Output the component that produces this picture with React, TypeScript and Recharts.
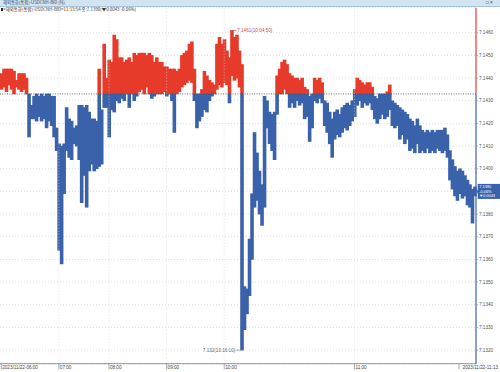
import React from 'react';
import { BarChart, Bar, XAxis, YAxis, CartesianGrid, ReferenceLine, ReferenceDot } from 'recharts';

// per-bucket tick highs / lows (USDCNH bid, tick chart)
const hiValues = [
  7.1442, 7.1444, 7.1444, 7.1444, 7.1444, 7.1443, 7.1439, 7.1442, 7.1442, 7.1442,
  7.1440, 7.1433, 7.1428, 7.1432, 7.1433, 7.1432, 7.1433, 7.1432, 7.1433, 7.1433,
  7.1432, 7.1432, 7.1418, 7.1411, 7.1410, 7.1411, 7.1427, 7.1422, 7.1421, 7.1418,
  7.1419, 7.1428, 7.1428, 7.1427, 7.1428, 7.1425, 7.1422, 7.1422, 7.1421, 7.1444,
  7.1426, 7.1455, 7.1440, 7.1448, 7.1447, 7.1459, 7.1457, 7.1449, 7.1449, 7.1447,
  7.1448, 7.1449, 7.1447, 7.1451, 7.1450, 7.1451, 7.1451, 7.1451, 7.1450, 7.1451,
  7.1450, 7.1447, 7.1449, 7.1447, 7.1447, 7.1445, 7.1445, 7.1444, 7.1444, 7.1444,
  7.1443, 7.1444, 7.1450, 7.1451, 7.1452, 7.1455, 7.1456, 7.1444, 7.1433, 7.1433,
  7.1435, 7.1443, 7.1441, 7.1439, 7.1438, 7.1437, 7.1455, 7.1458, 7.1455, 7.1457,
  7.1452, 7.1449, 7.1461, 7.1458, 7.1459, 7.1452, 7.1446, 7.1348, 7.1347, 7.1369,
  7.1389, 7.1416, 7.1407, 7.1399, 7.1393, 7.1432, 7.1430, 7.1425, 7.1424, 7.1425,
  7.1441, 7.1444, 7.1447, 7.1448, 7.1446, 7.1442, 7.1441, 7.1440, 7.1440, 7.1439,
  7.1440, 7.1436, 7.1435, 7.1432, 7.1433, 7.1440, 7.1439, 7.1440, 7.1438, 7.1430,
  7.1429, 7.1425, 7.1422, 7.1425, 7.1426, 7.1424, 7.1427, 7.1428, 7.1429, 7.1428,
  7.1430, 7.1435, 7.1440, 7.1439, 7.1438, 7.1437, 7.1438, 7.1438, 7.1436, 7.1432,
  7.1431, 7.1433, 7.1433, 7.1433, 7.1434, 7.1437, 7.1430, 7.1429, 7.1428, 7.1427,
  7.1426, 7.1425, 7.1424, 7.1422, 7.1421, 7.1419, 7.1422, 7.1419, 7.1417, 7.1416,
  7.1417, 7.1416, 7.1417, 7.1416, 7.1417, 7.1417, 7.1417, 7.1418, 7.1415, 7.1408,
  7.1404, 7.1401, 7.1399, 7.1400, 7.1399, 7.1397, 7.1395, 7.1393, 7.1391, 7.1392,
];

const loValues = [
  7.1435, 7.1436, 7.1434, 7.1437, 7.1435, 7.1433, 7.1436, 7.1435, 7.1434, 7.1435,
  7.1433, 7.1414, 7.1422, 7.1422, 7.1421, 7.1423, 7.1421, 7.1422, 7.1418, 7.1421,
  7.1419, 7.1414, 7.1408, 7.1364, 7.1358, 7.1389, 7.1408, 7.1405, 7.1404, 7.1411,
  7.1410, 7.1404, 7.1385, 7.1397, 7.1383, 7.1399, 7.1402, 7.1399, 7.1400, 7.1401,
  7.1402, 7.1427, 7.1427, 7.1414, 7.1426, 7.1425, 7.1430, 7.1429, 7.1431, 7.1430,
  7.1433, 7.1427, 7.1433, 7.1430, 7.1432, 7.1434, 7.1435, 7.1433, 7.1436, 7.1433,
  7.1431, 7.1432, 7.1433, 7.1433, 7.1433, 7.1434, 7.1432, 7.1433, 7.1430, 7.1416,
  7.1433, 7.1434, 7.1436, 7.1437, 7.1438, 7.1439, 7.1438, 7.1430, 7.1418, 7.1421,
  7.1423, 7.1426, 7.1425, 7.1430, 7.1432, 7.1433, 7.1435, 7.1437, 7.1436, 7.1438,
  7.1437, 7.1429, 7.1441, 7.1439, 7.1440, 7.1436, 7.1320, 7.1329, 7.1336, 7.1344,
  7.1360, 7.1383, 7.1386, 7.1380, 7.1375, 7.1383, 7.1418, 7.1411, 7.1408, 7.1404,
  7.1424, 7.1433, 7.1433, 7.1435, 7.1433, 7.1427, 7.1429, 7.1427, 7.1430, 7.1428,
  7.1429, 7.1422, 7.1423, 7.1412, 7.1418, 7.1430, 7.1429, 7.1431, 7.1429, 7.1419,
  7.1416, 7.1411, 7.1405, 7.1413, 7.1415, 7.1414, 7.1416, 7.1418, 7.1417, 7.1419,
  7.1421, 7.1423, 7.1428, 7.1430, 7.1427, 7.1429, 7.1428, 7.1429, 7.1426, 7.1422,
  7.1420, 7.1422, 7.1424, 7.1422, 7.1423, 7.1426, 7.1419, 7.1418, 7.1419, 7.1413,
  7.1415, 7.1411, 7.1413, 7.1408, 7.1409, 7.1407, 7.1411, 7.1407, 7.1408, 7.1407,
  7.1409, 7.1407, 7.1408, 7.1407, 7.1409, 7.1408, 7.1407, 7.1408, 7.1405, 7.1395,
  7.1391, 7.1388, 7.1386, 7.1389, 7.1387, 7.1388, 7.1384, 7.1383, 7.1376, 7.1388,
];

const yTickValues = [
  7.132, 7.133, 7.134, 7.135, 7.136, 7.137, 7.138, 7.139,
  7.14, 7.141, 7.142, 7.143, 7.144, 7.145, 7.146,
];

const timeLabels = ['2023/11/22-06:00', '07:00', '08:00', '09:00', '10:00', '11:00'];
const timeIndex = [0, 23, 43, 66, 89, 141];
const endLabel = '2023/11/22-11:13';

const prevClose = 7.1433;
const lastPrice = 7.139;
const lastPriceText = '7.1390';
const lastPctText = '-0.06%';
const lastChangeText = '▼0.0043';
const maxPrice = 7.1461;
const maxIndex = 92;
const maxTime = '10:04:50';
const minPrice = 7.132;
const minIndex = 96;
const minTime = '10:16:10';

const titleText = '해외통화(통합)-USDCNH-BID (틱)';
const infoText = '<해외통화(통합)-USDCNH-BID>11:13:54 종:7.1390(▼0.0043 -0.06%)';

const Y_MIN = 7.1314;
const Y_MAX = 7.1471;

const W = 500;
const H = 372;
const TOP = 7.8;
const X_AXIS_H = 8.3;
const Y_AXIS_W = 24;
const PLOT_BOTTOM = H - X_AXIS_H;
const PLOT_W = W - Y_AXIS_W;

const RED = '#e63b2b';
const BLUE = '#3a62ab';
const FONT = '"Liberation Sans", Arial, sans-serif';
const KFONT = '"Noto Sans CJK KR", "Liberation Sans", sans-serif';

const data = hiValues.map((hi, i) => ({ i, range: [loValues[i], hi] }));
const splitOffset = (Y_MAX - prevClose) / (Y_MAX - Y_MIN);
const bandW = PLOT_W / hiValues.length;

const labelMap: Record<number, string> = {};
timeIndex.forEach((idx, k) => {
  labelMap[idx] = timeLabels[k];
});

// bar shape that fills its whole category band (Recharts floors bar widths)
const TickBar = (props: any) => {
  const { x, y, width, height } = props;
  if (x == null || y == null) return null;
  const cx = x + width / 2;
  const w = bandW + 1.1;
  return <rect x={cx - w / 2} y={y - 0.3} width={w} height={Math.max(height, 0) + 0.6} fill="url(#updown)" />;
};

const XTick = (props: any) => {
  const { x, y, payload } = props;
  const idx = Number(payload.value);
  const label = labelMap[idx];
  if (idx === hiValues.length - 1) {
    return (
      <g>
        <line x1={W - 41} y1={y} x2={W - 41} y2={y + 6} stroke="#777" strokeWidth={0.6} />
        <text x={W - 2} y={y + 5.6} textAnchor="end" fontSize={4.6} fill="#444" fontFamily={FONT}>
          {endLabel}
        </text>
      </g>
    );
  }
  if (!label) return null;
  return (
    <g>
      <line x1={x} y1={y} x2={x} y2={y + 6} stroke="#777" strokeWidth={0.6} />
      <text x={x + 1} y={y + 5.6} textAnchor="start" fontSize={4.6} fill="#444" fontFamily={FONT}>
        {label}
      </text>
    </g>
  );
};

// right-axis price labels; the one under the last-price box is hidden by it
const YTick = (props: any) => {
  const { x, y, payload } = props;
  const v = Number(payload.value);
  if (Math.abs(v - lastPrice) < 1e-7) return null;
  return (
    <text x={x} y={y} dy="0.355em" textAnchor="start" fontSize={4.6} fill="#555" fontFamily={FONT}>
      {v.toFixed(4)}
    </text>
  );
};

const MaxMarker = (props: any) => {
  const { cx, cy } = props;
  return (
    <g>
      <line x1={cx} y1={cy} x2={cx + 5} y2={cy} stroke="#c85a50" strokeWidth={0.6} />
      <text x={cx + 5.5} y={cy + 1.6} fontSize={4.6} fill="#c0504a" fontFamily={FONT}>
        {`${maxPrice}(${maxTime})`}
      </text>
    </g>
  );
};

const MinMarker = (props: any) => {
  const { cx, cy } = props;
  return (
    <g>
      <line x1={cx - 6} y1={cy} x2={cx} y2={cy} stroke="#6a7da0" strokeWidth={0.6} />
      <text x={cx - 6.5} y={cy + 1.6} textAnchor="end" fontSize={4.6} fill="#5a6c90" fontFamily={FONT}>
        {`${minPrice}(${minTime})`}
      </text>
    </g>
  );
};

const LastMarker = (props: any) => {
  const { cx, cy } = props;
  const bx = cx + 3;
  return (
    <g>
      <polygon points={`${bx - 2},${cy} ${bx},${cy - 2} ${bx},${cy + 2}`} fill={BLUE} />
      <rect x={bx} y={cy - 7.5} width={W - bx} height={15} fill={BLUE} />
      <text x={bx + 1.5} y={cy - 3.2} fontSize={3.9} fill="#fff" fontFamily={FONT}>{lastPriceText}</text>
      <text x={bx + 1.5} y={cy + 1.3} fontSize={3.9} fill="#fff" fontFamily={FONT}>{lastPctText}</text>
      <text x={bx + 1.5} y={cy + 5.8} fontSize={3.9} fill="#fff" fontFamily={FONT}>{lastChangeText}</text>
    </g>
  );
};

export default function App() {
  return (
    <div style={{ position: 'absolute', left: 0, top: 0, width: W, height: H, background: '#fff', overflow: 'hidden' }}>
      <BarChart
        width={W}
        height={H}
        data={data}
        margin={{ top: TOP, right: 0, bottom: 0, left: 0 }}
        barCategoryGap={0}
        barGap={0}
      >
        <defs>
          <linearGradient id="updown" gradientUnits="userSpaceOnUse" x1="0" y1={TOP} x2="0" y2={PLOT_BOTTOM}>
            <stop offset={splitOffset} stopColor={RED} />
            <stop offset={splitOffset} stopColor={BLUE} />
          </linearGradient>
        </defs>
        <CartesianGrid vertical={false} stroke="#cfcfcf" strokeDasharray="1 2" strokeWidth={0.7} />
        {timeIndex.slice(1).map((idx) => (
          <ReferenceLine key={idx} x={idx} stroke="#d4d4d4" strokeDasharray="1 2" strokeWidth={0.7} />
        ))}
        <XAxis
          dataKey="i"
          type="category"
          height={X_AXIS_H}
          interval={0}
          tickLine={false}
          tickSize={0}
          tickMargin={0}
          axisLine={{ stroke: '#777', strokeWidth: 0.8 }}
          tick={<XTick />}
        />
        <YAxis
          orientation="right"
          width={Y_AXIS_W}
          domain={[Y_MIN, Y_MAX]}
          allowDataOverflow
          ticks={yTickValues}
          tickSize={2}
          tickMargin={1}
          tickLine={{ stroke: '#888', strokeWidth: 0.6 }}
          axisLine={{ stroke: 'url(#updown)', strokeWidth: 1.2 }}
          tick={<YTick />}
          interval={0}
        />
        <ReferenceLine y={prevClose} stroke="#444" strokeDasharray="1 1.4" strokeWidth={0.8} />
        <Bar dataKey="range" fill="url(#updown)" shape={<TickBar />} isAnimationActive={false} />
        <ReferenceDot x={maxIndex} y={maxPrice} r={1} shape={<MaxMarker />} />
        <ReferenceDot x={minIndex} y={minPrice} r={1} shape={<MinMarker />} />
        <ReferenceDot x={hiValues.length - 1} y={lastPrice} r={1} shape={<LastMarker />} />
      </BarChart>
      <div
        style={{
          position: 'absolute', left: 0, top: 0, width: W, height: 5.5,
          background: '#d2e4f1', borderBottom: '0.8px solid #a8c4da',
        }}
      >
        <span style={{ position: 'absolute', left: 3, top: 0.2, fontSize: 4.3, lineHeight: '5px', color: '#2f3f58', fontFamily: KFONT, whiteSpace: 'nowrap' }}>
          {titleText}
        </span>
        <span style={{ position: 'absolute', left: 486, top: 0, fontSize: 4.6, lineHeight: '5px', color: '#333', fontFamily: FONT, whiteSpace: 'nowrap' }}>
          □ ×
        </span>
      </div>
      <div style={{ position: 'absolute', left: 1, top: 6.6, fontSize: 4.4, lineHeight: '5px', color: '#333', fontFamily: KFONT, whiteSpace: 'nowrap' }}>
        <span style={{ display: 'inline-block', width: 1.5, height: 3.5, background: '#222', marginRight: 0.8, verticalAlign: 'middle' }} />
        {infoText}
      </div>
    </div>
  );
}
